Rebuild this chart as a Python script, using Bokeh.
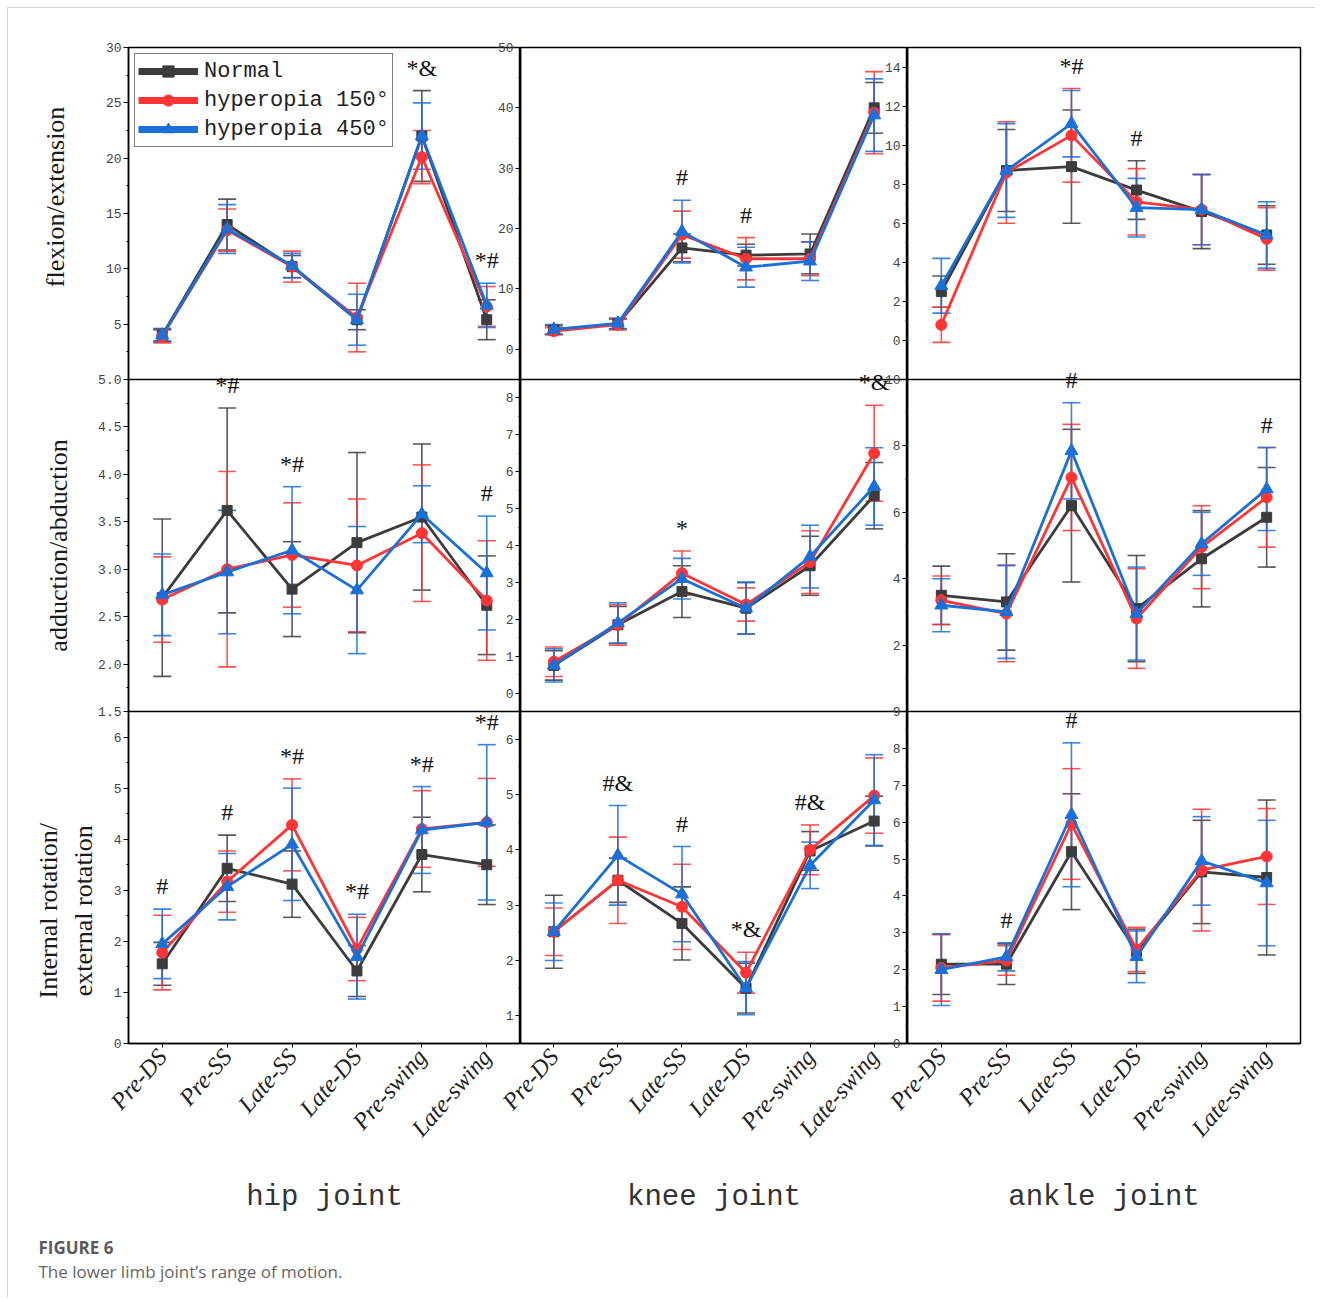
import math
from bokeh.plotting import figure
from bokeh.models import (Range1d, FixedTicker, Span, Whisker, TeeHead, ColumnDataSource,
                          Legend, LegendItem, Label)
from bokeh.layouts import row, column
from bokeh.embed import file_html
from bokeh.resources import INLINE
from bokeh.core.properties import value

# ---------------- data ----------------
phases = ["Pre-DS", "Pre-SS", "Late-SS", "Late-DS", "Pre-swing", "Late-swing"]
group_names = ["Normal", "hyperopia 150°", "hyperopia 450°"]
joint_titles = ["hip joint", "knee joint", "ankle joint"]

# hip flexion/extension
hip_flex_normal = [4.0, 14.0, 10.2, 5.4, 22.0, 5.4]
hip_flex_normal_sd = [0.6, 2.3, 1.0, 0.9, 4.1, 1.8]
hip_flex_h150 = [3.9, 13.5, 10.2, 5.6, 20.1, 6.6]
hip_flex_h150_sd = [0.6, 1.9, 1.4, 3.1, 2.4, 1.8]
hip_flex_h450 = [4.0, 13.6, 10.3, 5.4, 22.0, 6.7]
hip_flex_h450_sd = [0.5, 2.2, 1.1, 2.3, 3.0, 2.0]
hip_flex_marks = ["", "", "", "", "*&", "*#"]

# knee flexion/extension
knee_flex_normal = [3.2, 4.2, 16.8, 15.6, 15.8, 40.0]
knee_flex_normal_sd = [0.7, 0.8, 2.3, 1.8, 3.3, 4.2]
knee_flex_h150 = [3.0, 4.1, 19.0, 15.0, 15.0, 39.2]
knee_flex_h150_sd = [0.6, 0.9, 3.9, 3.5, 2.8, 6.8]
knee_flex_h450 = [3.3, 4.3, 19.5, 13.6, 14.6, 38.8]
knee_flex_h450_sd = [0.8, 0.9, 5.2, 3.3, 3.2, 6.0]
knee_flex_marks = ["", "", "#", "#", "", ""]

# ankle flexion/extension
ankle_flex_normal = [2.5, 8.7, 8.9, 7.7, 6.6, 5.4]
ankle_flex_normal_sd = [0.8, 2.1, 2.9, 1.5, 1.9, 1.5]
ankle_flex_h150 = [0.8, 8.6, 10.5, 7.1, 6.7, 5.2]
ankle_flex_h150_sd = [0.9, 2.6, 2.4, 1.7, 1.8, 1.6]
ankle_flex_h450 = [2.8, 8.7, 11.1, 6.8, 6.7, 5.4]
ankle_flex_h450_sd = [1.4, 2.4, 1.7, 1.5, 1.8, 1.7]
ankle_flex_marks = ["", "", "*#", "#", "", ""]

# hip adduction/abduction
hip_add_normal = [2.70, 3.62, 2.79, 3.28, 3.55, 2.62]
hip_add_normal_sd = [0.83, 1.08, 0.50, 0.95, 0.77, 0.52]
hip_add_h150 = [2.68, 3.00, 3.15, 3.04, 3.38, 2.67]
hip_add_h150_sd = [0.45, 1.03, 0.55, 0.70, 0.72, 0.63]
hip_add_h450 = [2.73, 2.97, 3.20, 2.78, 3.58, 2.96]
hip_add_h450_sd = [0.43, 0.65, 0.67, 0.67, 0.30, 0.60]
hip_add_marks = ["", "*#", "*#", "", "", "#"]

# knee adduction/abduction
knee_add_normal = [0.75, 1.85, 2.75, 2.30, 3.45, 5.35]
knee_add_normal_sd = [0.40, 0.50, 0.70, 0.70, 0.80, 0.90]
knee_add_h150 = [0.85, 1.85, 3.25, 2.40, 3.55, 6.50]
knee_add_h150_sd = [0.40, 0.55, 0.60, 0.45, 0.85, 1.30]
knee_add_h450 = [0.75, 1.90, 3.10, 2.30, 3.70, 5.60]
knee_add_h450_sd = [0.45, 0.55, 0.55, 0.70, 0.85, 1.05]
knee_add_marks = ["", "", "*", "", "", "*&"]

# ankle adduction/abduction
ankle_add_normal = [3.50, 3.30, 6.20, 3.10, 4.60, 5.85]
ankle_add_normal_sd = [0.88, 1.45, 2.30, 1.60, 1.45, 1.50]
ankle_add_h150 = [3.35, 2.95, 7.05, 2.80, 4.95, 6.45]
ankle_add_h150_sd = [0.73, 1.45, 1.60, 1.50, 1.25, 1.50]
ankle_add_h450 = [3.20, 3.00, 7.85, 2.95, 5.05, 6.70]
ankle_add_h450_sd = [0.80, 1.40, 1.45, 1.40, 0.95, 1.25]
ankle_add_marks = ["", "", "#", "", "", "#"]

# hip internal/external rotation
hip_rot_normal = [1.56, 3.43, 3.12, 1.42, 3.70, 3.50]
hip_rot_normal_sd = [0.42, 0.65, 0.65, 0.50, 0.73, 0.78]
hip_rot_h150 = [1.78, 3.17, 4.28, 1.85, 4.20, 4.33]
hip_rot_h150_sd = [0.73, 0.60, 0.90, 0.62, 0.75, 0.86]
hip_rot_h450 = [1.95, 3.07, 3.90, 1.70, 4.18, 4.33]
hip_rot_h450_sd = [0.68, 0.65, 1.10, 0.83, 0.85, 1.52]
hip_rot_marks = ["#", "#", "*#", "*#", "*#", "*#"]

# knee internal/external rotation
knee_rot_normal = [2.52, 3.45, 2.67, 1.50, 3.98, 4.52]
knee_rot_normal_sd = [0.66, 0.40, 0.66, 0.45, 0.35, 0.45]
knee_rot_h150 = [2.52, 3.45, 2.97, 1.78, 4.00, 4.98]
knee_rot_h150_sd = [0.43, 0.78, 0.77, 0.37, 0.45, 0.68]
knee_rot_h450 = [2.52, 3.90, 3.20, 1.50, 3.72, 4.90]
knee_rot_h450_sd = [0.52, 0.90, 0.86, 0.48, 0.42, 0.82]
knee_rot_marks = ["", "#&", "#", "*&", "#&", ""]

# ankle internal/external rotation
ankle_rot_normal = [2.15, 2.15, 5.20, 2.50, 4.65, 4.50]
ankle_rot_normal_sd = [0.82, 0.55, 1.57, 0.60, 1.40, 2.10]
ankle_rot_h150 = [2.05, 2.25, 5.95, 2.55, 4.70, 5.07]
ankle_rot_h150_sd = [0.90, 0.40, 1.50, 0.60, 1.65, 1.30]
ankle_rot_h450 = [2.00, 2.35, 6.20, 2.35, 4.95, 4.35]
ankle_rot_h450_sd = [0.97, 0.38, 1.95, 0.70, 1.20, 1.70]
ankle_rot_marks = ["", "#", "#", "", "", ""]

# axis tick values
hip_flex_ticks = [0, 5, 10, 15, 20, 25, 30]
hip_add_ticks = [1.5, 2.0, 2.5, 3.0, 3.5, 4.0, 4.5, 5.0]
hip_rot_ticks = [0, 1, 2, 3, 4, 5, 6]
knee_flex_ticks = [0, 10, 20, 30, 40, 50]
knee_add_ticks = [0, 1, 2, 3, 4, 5, 6, 7, 8]
knee_rot_ticks = [1, 2, 3, 4, 5, 6]
ankle_flex_ticks = [0, 2, 4, 6, 8, 10, 12, 14]
ankle_add_ticks = [0, 2, 4, 6, 8, 10]
ankle_rot_ticks = [0, 1, 2, 3, 4, 5, 6, 7, 8, 9]

# ---------------- assembly ----------------
JOINTS = {
    "hip": [
        ([hip_flex_normal, hip_flex_h150, hip_flex_h450],
         [hip_flex_normal_sd, hip_flex_h150_sd, hip_flex_h450_sd], hip_flex_marks, hip_flex_ticks, (0, 30), "{:.0f}"),
        ([hip_add_normal, hip_add_h150, hip_add_h450],
         [hip_add_normal_sd, hip_add_h150_sd, hip_add_h450_sd], hip_add_marks, hip_add_ticks, (1.5, 5.0), "{:.1f}"),
        ([hip_rot_normal, hip_rot_h150, hip_rot_h450],
         [hip_rot_normal_sd, hip_rot_h150_sd, hip_rot_h450_sd], hip_rot_marks, hip_rot_ticks, (0, 6.5), "{:.0f}"),
    ],
    "knee": [
        ([knee_flex_normal, knee_flex_h150, knee_flex_h450],
         [knee_flex_normal_sd, knee_flex_h150_sd, knee_flex_h450_sd], knee_flex_marks, knee_flex_ticks, (-5, 50), "{:.0f}"),
        ([knee_add_normal, knee_add_h150, knee_add_h450],
         [knee_add_normal_sd, knee_add_h150_sd, knee_add_h450_sd], knee_add_marks, knee_add_ticks, (-0.5, 8.5), "{:.0f}"),
        ([knee_rot_normal, knee_rot_h150, knee_rot_h450],
         [knee_rot_normal_sd, knee_rot_h150_sd, knee_rot_h450_sd], knee_rot_marks, knee_rot_ticks, (0.5, 6.5), "{:.0f}"),
    ],
    "ankle": [
        ([ankle_flex_normal, ankle_flex_h150, ankle_flex_h450],
         [ankle_flex_normal_sd, ankle_flex_h150_sd, ankle_flex_h450_sd], ankle_flex_marks, ankle_flex_ticks, (-2, 15), "{:.0f}"),
        ([ankle_add_normal, ankle_add_h150, ankle_add_h450],
         [ankle_add_normal_sd, ankle_add_h150_sd, ankle_add_h450_sd], ankle_add_marks, ankle_add_ticks, (0, 10), "{:.0f}"),
        ([ankle_rot_normal, ankle_rot_h150, ankle_rot_h450],
         [ankle_rot_normal_sd, ankle_rot_h150_sd, ankle_rot_h450_sd], ankle_rot_marks, ankle_rot_ticks, (0, 9), "{:.0f}"),
    ],
}

COLORS = ["#3c3c3c", "#ff3535", "#1b6fd8"]
MARKERS = ["square", "circle", "triangle"]
SIZES = [10, 11, 13]

TOP = 39
FRAME_H = 996
BOTTOM = 175
H = TOP + FRAME_H + BOTTOM
X0, X1 = -0.52, 5.52
NAN = float("nan")


def make_col(joint, title, frame_w, left, right, overlap, legend=False):
    p = figure(width=left + frame_w + right, height=H,
               x_range=Range1d(X0, X1), y_range=Range1d(0, 3),
               output_backend="svg", toolbar_location=None,
               min_border_left=left, min_border_right=right,
               min_border_top=TOP, min_border_bottom=BOTTOM,
               margin=(0, 0, 0, -overlap))
    p.border_fill_color = None
    p.background_fill_color = "white"
    p.outline_line_color = "black"
    p.outline_line_width = 1.5
    p.xgrid.visible = False
    p.ygrid.visible = False

    ticks, minors, overrides = [], [], {}
    for r, (means, sds, marks, tv, (lo, hi), fmt) in enumerate(JOINTS[joint]):
        span = hi - lo
        band = 2 - r
        name = f"{joint}{r}"
        p.extra_y_ranges[name] = Range1d(lo - band * span, hi + (2 - band) * span)
        for v in tv:
            pos = round(band + (v - lo) / span, 6)
            ticks.append(pos)
            overrides[pos] = fmt.format(v)
        step = tv[1] - tv[0]
        for v in tv[:-1]:
            minors.append(round(band + (v + step / 2 - lo) / span, 6))

        xs = list(range(len(phases)))
        for g in range(3):
            up = [m + s for m, s in zip(means[g], sds[g])]
            lw = [m - s for m, s in zip(means[g], sds[g])]
            src = ColumnDataSource(dict(x=xs, y=means[g], upper=up, lower=lw))
            w = Whisker(source=src, base="x", upper="upper", lower="lower",
                        dimension="height", y_range_name=name,
                        line_color=COLORS[g], line_width=1.6, line_alpha=0.85,
                        upper_head=TeeHead(size=18, line_color=COLORS[g], line_width=1.6, line_alpha=0.85),
                        lower_head=TeeHead(size=18, line_color=COLORS[g], line_width=1.6, line_alpha=0.85))
            p.add_layout(w)
            p.line("x", "y", source=src, y_range_name=name, line_color=COLORS[g], line_width=2.8)
            p.scatter("x", "y", source=src, y_range_name=name, marker=MARKERS[g],
                      size=SIZES[g], color=COLORS[g])

        # significance marks above the highest error bar
        mx, my, mt = [], [], []
        for i, t in enumerate(marks):
            if t:
                top = max(means[g][i] + sds[g][i] for g in range(3))
                mx.append(i)
                my.append(top + 0.03 * span)
                mt.append(t)
        if mt:
            p.text(x=mx, y=my, text=mt, y_range_name=name, text_align="center",
                   text_baseline="bottom", text_font=value("Liberation Serif"),
                   text_font_size="24px", text_color="#111111")

    for loc in (1, 2):
        p.add_layout(Span(location=loc, dimension="width", line_color="black", line_width=1.5))

    yax = p.yaxis[0]
    yax.ticker = FixedTicker(ticks=sorted(set(ticks)), minor_ticks=sorted(set(minors)))
    yax.major_label_overrides = overrides
    yax.major_tick_out = 5
    yax.major_tick_in = 0
    yax.minor_tick_out = 2
    yax.minor_tick_in = 0
    yax.major_label_standoff = 2
    yax.major_label_text_font = "Liberation Mono"
    yax.major_label_text_font_size = "13px"
    yax.major_label_text_color = "#444444"
    yax.axis_line_color = "black"
    yax.axis_line_width = 1.5

    xax = p.xaxis[0]
    xax.ticker = FixedTicker(ticks=list(range(len(phases))))
    xax.major_label_overrides = {i: ph for i, ph in enumerate(phases)}
    xax.major_label_orientation = 0.85
    xax.major_label_text_font = "Liberation Serif"
    xax.major_label_text_font_style = "italic"
    xax.major_label_text_font_size = "24px"
    xax.major_label_text_color = "#222222"
    xax.major_tick_out = 4
    xax.major_tick_in = 0
    xax.minor_tick_out = 0
    xax.axis_line_color = "black"
    xax.axis_line_width = 1.5
    xax.axis_label = title
    xax.axis_label_text_font = "Liberation Mono"
    xax.axis_label_text_font_style = "normal"
    xax.axis_label_text_font_size = "29px"
    xax.axis_label_text_color = "#333333"
    xax.axis_label_standoff = 28

    if legend:
        items = []
        for g in range(3):
            lr = p.line(x=[NAN], y=[NAN], line_color=COLORS[g], line_width=7)
            sr = p.scatter(x=[NAN], y=[NAN], marker=MARKERS[g], size=24, color=COLORS[g])
            items.append(LegendItem(label=group_names[g], renderers=[lr, sr]))
        lg = Legend(items=items, location="top_left", border_line_color="black",
                    border_line_width=1.5, background_fill_color="white",
                    label_text_font="Liberation Mono", label_text_font_size="22px",
                    label_text_color="#222222", glyph_width=60, glyph_height=28,
                    label_height=28, label_standoff=6, spacing=1, padding=3, margin=6)
        p.add_layout(lg)
    return p


HIP_W, KNEE_W, ANKLE_W = 392, 387, 393
TITLE_W = 120

# narrow figure carrying the three row titles (left of the hip column)
p_titles = figure(width=TITLE_W, height=H, x_range=Range1d(0, TITLE_W), y_range=Range1d(0, 3),
                  output_backend="svg", toolbar_location=None,
                  min_border_left=0, min_border_right=0, min_border_top=TOP, min_border_bottom=BOTTOM,
                  x_axis_type=None, y_axis_type=None)
p_titles.outline_line_color = None
p_titles.border_fill_color = None
p_titles.background_fill_color = None
p_titles.grid.visible = False
title_style = dict(angle=math.pi / 2, text_align="center", text_baseline="middle",
                   text_font="Liberation Serif", text_font_size="26px", text_color="#1a1a1a")
p_titles.add_layout(Label(x=47, y=2.55, text="flexion/extension", **title_style))
p_titles.add_layout(Label(x=50, y=1.50, text="adduction/abduction", **title_style))
p_titles.add_layout(Label(x=40, y=0.40, text="Internal rotation/", **title_style))
p_titles.add_layout(Label(x=75, y=0.40, text="external rotation", **title_style))

p_hip = make_col("hip", joint_titles[0], HIP_W, 40, 0, 40, legend=True)
p_knee = make_col("knee", joint_titles[1], KNEE_W, 30, 0, 30)
p_ankle = make_col("ankle", joint_titles[2], ANKLE_W, 30, 15, 30)

# caption
cap = figure(width=1300, height=80, x_range=Range1d(0, 1), y_range=Range1d(0, 1),
             output_backend="svg", toolbar_location=None, min_border=0,
             x_axis_type=None, y_axis_type=None)
cap.outline_line_color = None
cap.grid.visible = False
cap.add_layout(Label(x=30, y=0.64, x_units="screen", text="FIGURE 6", text_font="Open Sans",
                     text_font_style="bold", text_font_size="17px", text_color="#5a5a5a",
                     text_baseline="middle"))
cap.add_layout(Label(x=30, y=0.34, x_units="screen", text="The lower limb joint\u2019s range of motion.",
                     text_font="Open Sans", text_font_size="17px", text_color="#666666",
                     text_baseline="middle"))

layout = column(row(p_titles, p_hip, p_knee, p_ankle), cap,
                margin=(7, 0, 0, 7),
                styles={"border-left": "1px solid #d4d4d4", "border-top": "1px solid #d4d4d4"})

with open("out.html", "w") as f:
    f.write(file_html(layout, INLINE))
